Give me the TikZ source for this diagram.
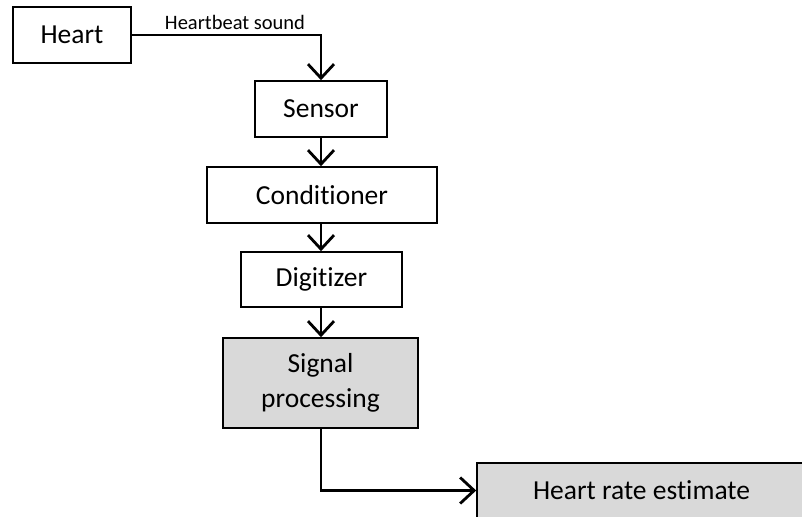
\documentclass[tikz,border=0pt]{standalone}
\usepackage{fontspec}
\setmainfont{Carlito}[Ligatures=NoCommon]
\usetikzlibrary{arrows.meta}
\begin{document}
\begin{tikzpicture}[x=1pt,y=-1pt,
  blk/.style={draw=black,line width=1.6pt,fill=white,font=\fontsize{27.5}{35}\selectfont,inner sep=0pt,align=center},
  grayblk/.style={blk,fill=black!15},
  conn/.style={line width=2.8pt,-{Straight Barb[length=14pt,width=26pt,line width=2.8pt]}}]
\useasboundingbox (0,0) rectangle (802,516);
\node[blk,minimum width=118pt,minimum height=56pt] (heart) at (72,35) {Heart};
\node[blk,minimum width=132pt,minimum height=56pt] (sensor) at (321,109) {Sensor};
\node[blk,minimum width=230pt,minimum height=56pt] (cond) at (322,195) {Conditioner};
\node[blk,minimum width=161pt,minimum height=55pt] (dig) at (321.5,279.5) {Digitizer};
\node[grayblk,minimum width=195pt,minimum height=90pt] (sp) at (320.5,383) {Signal\\processing};
\node[grayblk,minimum width=329pt,minimum height=55pt] (hre) at (641.5,490.5) {Heart rate estimate};
\draw[conn] (heart.east) -| (sensor.north);
\node[font=\fontsize{20.5}{24}\selectfont,inner sep=0pt] (lbl) at (235,22) {Heartbeat sound};
\draw[conn] (sensor.south) -- (sensor.south |- cond.north);
\draw[conn] (cond.south -| sensor.south) -- (sensor.south |- dig.north);
\draw[conn] (dig.south -| sensor.south) -- (sensor.south |- sp.north);
\draw[conn] (sp.south -| sensor.south) |- (hre.west);
\end{tikzpicture}
\end{document}
